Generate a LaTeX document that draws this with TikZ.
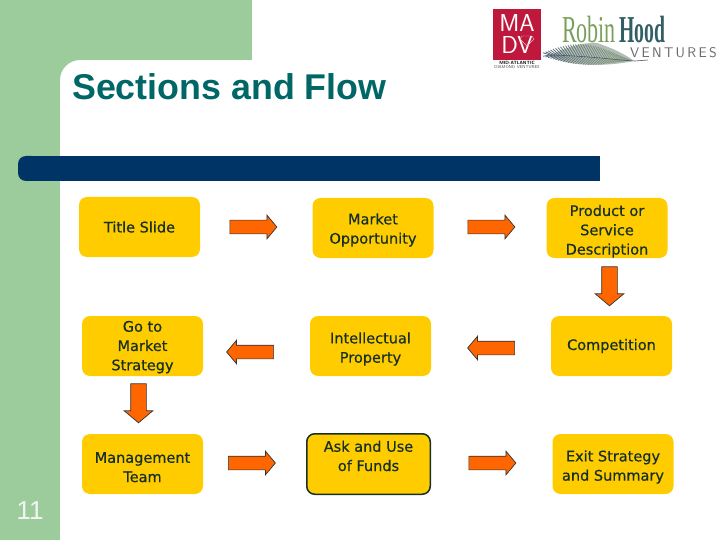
\documentclass[tikz,border=0pt]{standalone}
\usepackage{fontspec}
\setmainfont{DejaVu Sans}
\newfontfamily\boxfont[FakeBold=0.6]{DejaVu Sans}
\newfontfamily\titlefont{Liberation Sans}
\newfontfamily\logofont{Liberation Serif}
\usetikzlibrary{shapes.arrows}

\definecolor{sidegreen}{RGB}{156,204,156}
\definecolor{barblue}{RGB}{0,51,102}
\definecolor{titleteal}{RGB}{0,102,102}
\definecolor{boxyellow}{RGB}{255,204,0}
\definecolor{boxtext}{RGB}{22,48,40}
\definecolor{arroworange}{RGB}{255,102,0}
\definecolor{logored}{RGB}{190,25,60}
\definecolor{robingreen}{RGB}{120,160,90}
\definecolor{hoodteal}{RGB}{50,95,100}
\definecolor{feathergray}{RGB}{135,155,125}
\definecolor{featherblue}{RGB}{70,90,110}

% first line made taller, so the text sits lower in its box
\newcommand{\dropline}[1]{\rule{0pt}{#1pt}}

\tikzset{
    sectionbox/.style={fill=boxyellow, rounded corners=8pt, minimum width=121pt, minimum height=60pt,
        inner sep=0pt, align=center, text=boxtext, font=\boxfont\fontsize{14.5}{19.3}\selectfont},
    flowarrow/.style={single arrow, draw=black!80, fill=arroworange, line width=0.7pt, inner sep=0pt,
        minimum height=47pt, minimum width=23pt, single arrow head extend=5pt,
        single arrow tip angle=100, text height=13pt, text depth=0pt},
    droparrow/.style={flowarrow, rotate=-90, minimum height=39pt, minimum width=28pt,
        single arrow head extend=6.5pt, text height=15pt}
}

\begin{document}
\begin{tikzpicture}[x=1pt, y=-1pt]
    \useasboundingbox (0,0) rectangle (720,540);

    % Green background
    \fill[sidegreen] (0,0) rectangle (252,60);
    \fill[sidegreen] (0,0) rectangle (60,540);
    \fill[sidegreen] (60,60) -- (80,60) .. controls (69,60) and (60,69) .. (60,80) -- cycle;

    % Title and bar
    \node[anchor=west, inner sep=0pt, text=titleteal, font=\titlefont\bfseries\fontsize{35.8}{40}\selectfont] (title) at (72,87) {Sections and Flow};
    \fill[barblue, rounded corners=8pt] (18,156) rectangle (40,181);
    \fill[barblue] (30,156) rectangle (600,181);

    % Page number
    \node[inner sep=0pt, text=white!85!sidegreen, font=\titlefont\fontsize{26}{30}\selectfont] (pagenum) at (30,511) {11};

    % Boxes
    \node[sectionbox] (titleslide) at (139.5,227) {Title Slide};
    \node[sectionbox] (market) at (373,228) {\dropline{15}Market\\Opportunity};
    \node[sectionbox] (product) at (607,228) {\dropline{17.5}Product or\\Service\\Description};
    \node[sectionbox] (gotomarket) at (142.5,346) {\dropline{13}Go to\\Market\\Strategy};
    \node[sectionbox] (ip) at (370.5,346) {\dropline{17}Intellectual\\Property};
    \node[sectionbox] (competition) at (611.5,346) {Competition};
    \node[sectionbox] (mgmt) at (142.5,464) {\dropline{17}Management\\Team};
    \node[sectionbox, draw=boxtext, line width=1.5pt, minimum width=123.5pt, minimum height=60.5pt] (ask) at (368.5,464) {Ask and Use\\of Funds\\[-3pt]\mbox{}};
    \node[sectionbox] (exit) at (613,464) {\dropline{17}Exit Strategy\\and Summary};

    % Block arrows
    \node[flowarrow] (arrowa) at (250.5,227) {};
    \node[flowarrow] (arrowb) at (488.5,227) {};
    \node[droparrow] (arrowc) at (609.5,283) {};
    \node[flowarrow, rotate=180] (arrowd) at (494,348) {};
    \node[flowarrow, rotate=180] (arrowe) at (253,352) {};
    \node[droparrow] (arrowf) at (138.5,400) {};
    \node[flowarrow] (arrowg) at (249,463) {};
    \node[flowarrow] (arrowh) at (489.5,463) {};

    % MADV logo
    \fill[logored] (493,9) rectangle (541,60);
    \node[inner sep=0pt, white, font=\sffamily\fontsize{24.5}{25}\selectfont] (logoma) at (517,23) {MA};
    \node[inner sep=0pt, white, font=\sffamily\fontsize{24.5}{25}\selectfont] (logodv) at (517,45.5) {DV};
    \draw[white!70!logored, line width=0.4pt] (522,36) -- (532,36) -- (534,39) -- (527,46) -- (520,39) -- cycle;
    \node[inner sep=0pt, font=\sffamily\bfseries\fontsize{4.6}{5}\selectfont] (logomid) at (517,62.5) {MID-ATLANTIC};
    \node[inner sep=0pt, text=black!70, font=\sffamily\fontsize{4.2}{5}\selectfont] (logodiamond) at (517,67) {DIAMOND VENTURES};

    % Robin Hood logo
    \fill[feathergray!70!featherblue, opacity=0.55] (549,56) .. controls (565,47) and (585,42) .. (597,43) .. controls (612,48) and (625,54) .. (634,61) .. controls (610,66) and (570,68) .. (549,56) -- cycle;
    \foreach \x in {550,552.5,...,632} {
        \pgfmathsetmacro\pct{min(100,(\x-550)*1.4)}
        \pgfmathsetmacro\rachis{55+(\x-550)*0.06}
        \pgfmathsetmacro\up{13*sin((\x-545)*2)}
        \pgfmathsetmacro\down{7*sin((\x-545)*2)}
        \draw[feathergray!\pct!featherblue, line width=0.7pt] (\x,\rachis) -- (\x-7,\rachis-\up);
        \draw[feathergray!\pct!featherblue, line width=0.7pt] (\x,\rachis) -- (\x-7,\rachis+\down);
    }
    \draw[featherblue, line width=0.6pt] (550,55) .. controls (590,56) and (615,60) .. (635,61) -- (648,60);
    \node[anchor=west, inner sep=0pt, xscale=0.58, text=robingreen, font=\logofont\fontsize{38}{38}\selectfont] (logorobin) at (562,30) {Robin};
    \node[anchor=west, inner sep=0pt, xscale=0.52, text=hoodteal, font=\logofont\bfseries\fontsize{38}{38}\selectfont] (logohood) at (619,30) {Hood};
    \node[anchor=west, inner sep=0pt, text=black!60, font=\sffamily\fontsize{14}{14}\selectfont] (logoventures) at (630,53) {V\,E\,N\,T\,U\,R\,E\,S};
\end{tikzpicture}
\end{document}
